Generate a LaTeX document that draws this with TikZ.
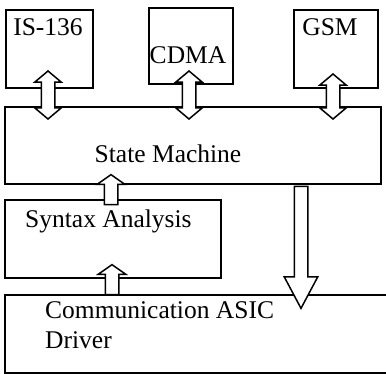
\documentclass[tikz,border=0pt]{standalone}
\usepackage{fontspec}
\setmainfont{Liberation Serif}
\usetikzlibrary{shapes.arrows}
\begin{document}
\begin{tikzpicture}[x=1pt, y=-1pt,
  box/.style = {draw, line width=1.8pt, anchor=north west, inner sep=0pt},
  txt/.style = {inner sep=0pt, font=\fontsize{25.5}{30}\selectfont},
  twoway/.style = {double arrow, draw, fill=white, line width=1.5pt,
    inner sep=6pt, minimum height=48,
    double arrow head extend=6.5, double arrow tip angle=100,
    shape border rotate=90},
  oneway/.style = {single arrow, draw, fill=white, line width=1.5pt,
    inner sep=6pt, minimum height=30,
    single arrow head extend=7, single arrow tip angle=110}]
  \useasboundingbox (0,0) rectangle (386,373);
  % boxes
  \node[box, minimum width=87, minimum height=78] (is136) at (5,9) {};
  \node[box, minimum width=84, minimum height=76] (cdma) at (148,7) {};
  \node[box, minimum width=84, minimum height=78] (gsm) at (293,9) {};
  \node[box, minimum width=376, minimum height=77] (fsm) at (4,106) {};
  \node[box, minimum width=216, minimum height=78] (syntax) at (4,199) {};
  \node[box, minimum width=400, minimum height=78] (asic) at (4,294) {};
  % texts
  \node[txt, anchor=base] at (48,35) {IS-136};
  \node[txt, anchor=base] at (188,63) {CDMA};
  \node[txt, anchor=base] at (330,35) {GSM};
  \node[txt, anchor=base] at (168,162) {State Machine};
  \node[txt, anchor=base west] at (25,227) {Syntax Analysis};
  \node[txt, anchor=base west] at (45,318) {Communication ASIC};
  \node[txt, anchor=base west] at (45,348) {Driver};
  % block arrows
  \node[twoway] (isarrow) at (48,95) {};
  \node[twoway] (cdmaarrow) at (189,95) {};
  \node[twoway, minimum height=45] (gsmarrow) at (333,96.5) {};
  \node[oneway, shape border rotate=90] (syntaxup) at (111,192) {};
  \node[oneway, shape border rotate=90] (asicup) at (112,282) {};
  \node[oneway, shape border rotate=270, minimum height=122,
    single arrow head extend=10, single arrow tip angle=56] (fsmdown) at (301,241) {};
\end{tikzpicture}
\end{document}
